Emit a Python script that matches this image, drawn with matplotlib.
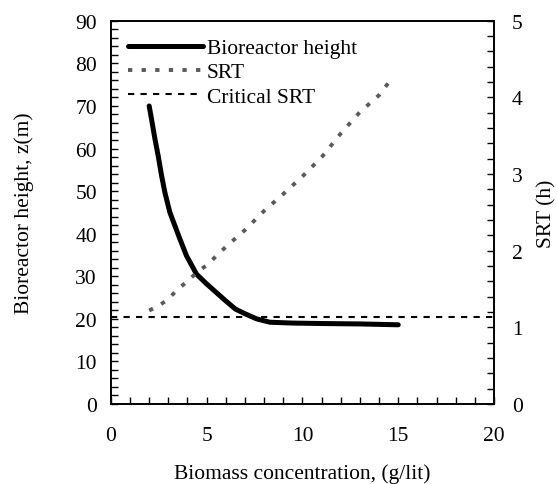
import numpy as np
import matplotlib.pyplot as plt
from matplotlib.ticker import MultipleLocator

plt.rcParams['font.family'] = ['Liberation Serif', 'DejaVu Serif']

# Bioreactor height vs biomass concentration (left axis)
biomass_h = [2.0, 2.1, 2.3, 2.47, 2.65, 2.82, 3.08, 3.34, 3.6, 3.95, 4.47, 5.0,
             5.5, 6.0, 6.5, 7.0, 7.6, 8.3, 9.5, 11.0, 13.0, 15.0]
height = [70.0, 67.5, 62.3, 58.3, 53.6, 49.7, 45.0, 41.9, 38.8, 34.8, 30.5, 28.2,
          26.2, 24.2, 22.3, 21.2, 20.0, 19.2, 19.0, 18.9, 18.8, 18.6]

# SRT vs biomass concentration (right axis)
biomass_s = [2.0, 2.5, 3.0, 3.5, 4.0, 4.5, 5.0, 6.0, 7.0, 8.0, 9.0, 10.0, 11.0, 12.0, 13.0, 14.0, 14.7]
srt = [1.22, 1.28, 1.37, 1.50, 1.60, 1.72, 1.81, 2.05, 2.27, 2.52, 2.74, 2.97, 3.22, 3.53, 3.81, 4.03, 4.26]

critical_srt = 1.14

fig = plt.figure(figsize=(5.57, 4.85), dpi=100)
ax = fig.add_axes([0.199, 0.165, 0.688, 0.79])
ax2 = ax.twinx()

l1, = ax.plot(biomass_h, height, color='black', lw=3.6, solid_capstyle='round',
              label='Bioreactor height')
l2, = ax2.plot(biomass_s, srt, color='#5a5a5a', lw=2.8, ls=(0, (1.1, 2.4)),
               label='SRT')
l3 = ax2.axhline(critical_srt, color='black', lw=1.5, ls=(0, (3, 3)),
                 label='Critical SRT')

ax.set_xlim(0, 20)
ax.set_ylim(0, 90)
ax2.set_ylim(0, 5)

ax.xaxis.set_major_locator(MultipleLocator(5))
ax.xaxis.set_minor_locator(MultipleLocator(1))
ax.yaxis.set_major_locator(MultipleLocator(10))
ax.yaxis.set_minor_locator(MultipleLocator(2))
ax2.yaxis.set_major_locator(MultipleLocator(1))
ax2.yaxis.set_minor_locator(MultipleLocator(0.2))

fs = 15.5
ax.tick_params(axis='both', which='both', direction='in', top=False, labelsize=fs)
ax.tick_params(axis='both', which='both', length=5, width=1)
ax.tick_params(axis='x', which='major', pad=16)
ax.tick_params(axis='y', which='major', pad=10)
ax2.tick_params(axis='y', which='both', direction='in', length=5, width=1,
                labelsize=fs, pad=13)
for a in (ax, ax2):
    for s in a.spines.values():
        s.set_linewidth(1.2)

ax.set_xlabel('Biomass concentration, (g/lit)', fontsize=fs, labelpad=13)
ax.set_ylabel('Bioreactor height, z(m)', fontsize=fs, labelpad=30)
ax2.set_ylabel('SRT (h)', fontsize=fs, labelpad=10)

ax.legend(handles=[l1, l2, l3], loc='upper left', frameon=False, fontsize=fs,
          handlelength=3.5, handletextpad=0.15, labelspacing=0.2,
          borderaxespad=0.4, bbox_to_anchor=(0.0, 1.0))

fig.savefig('out.png', dpi=100)
